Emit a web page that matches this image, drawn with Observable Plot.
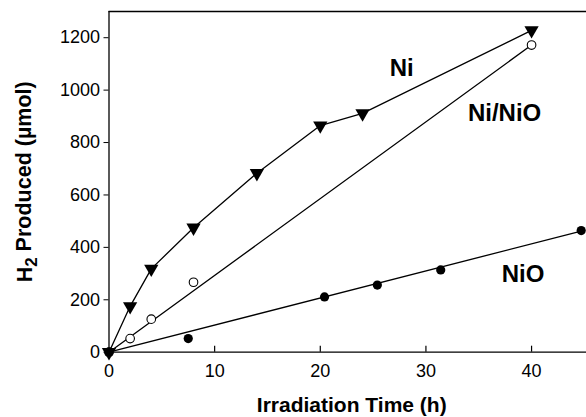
<!DOCTYPE html>
<html>
<head>
<meta charset="utf-8">
<script src="https://cdn.jsdelivr.net/npm/d3@7"></script>
<script src="https://cdn.jsdelivr.net/npm/@observablehq/plot@0.6"></script>
<style>
  html, body { margin: 0; padding: 0; background: white; }
</style>
</head>
<body>
<div id="chart"></div>
<script>
// Ni (filled down-triangles), connected point to point
const niTime = [0, 2, 4, 8, 14, 20, 24, 40];
const niH2   = [0, 175, 318, 475, 683, 865, 911, 1228];

// Ni/NiO (open circles) with straight fitted line
const niNioTime = [0, 2, 4, 8, 40];
const niNioH2   = [0, 52, 126, 267, 1172];
const niNioFitTime = [0, 40];
const niNioFitH2   = [0, 1172];

// NiO (filled circles) with straight fitted line
const nioTime = [0, 7.5, 20.4, 25.4, 31.4, 44.7];
const nioH2   = [0, 52, 211, 256, 314, 464];
const nioFitTime = [0, 44.7];
const nioFitH2   = [0, 462];

// series labels
const labelText = ["Ni", "Ni/NiO", "NiO"];
const labelX    = [27.7, 37.45, 39.2];
const labelY    = [1083, 910, 297];

const xTicks = [0, 10, 20, 30, 40];
const yTicks = [0, 200, 400, 600, 800, 1000, 1200];
const xTitle = "Irradiation Time (h)";
const yTitle = "H2 Produced (\u00B5mol)";

const zip = (xs, ys) => xs.map((x, i) => ({x, y: ys[i]}));
const ni = zip(niTime, niH2);
const niNio = zip(niNioTime, niNioH2);
const niNioFit = zip(niNioFitTime, niNioFitH2);
const nio = zip(nioTime, nioH2);
const nioFit = zip(nioFitTime, nioFitH2);
const labels = labelText.map((t, i) => ({t, x: labelX[i], y: labelY[i]}));

const font = "'Liberation Sans', Arial, Helvetica, sans-serif";

const chart = Plot.plot({
  width: 586,
  height: 417,
  marginLeft: 108.5,
  marginRight: 0,
  marginTop: 11,
  marginBottom: 65.3,
  x: {domain: [0, 45.2]},
  y: {domain: [0, 1300]},
  style: {fontFamily: font, fontSize: "18px", color: "black", background: "white"},
  marks: [
    Plot.axisY(yTicks, {tickSize: 5, tickPadding: 4, label: null, tickFormat: d => String(d)}),
    Plot.axisX(xTicks, {tickSize: 0, tickPadding: 12, label: null, tickFormat: d => String(d)}),
    Plot.tickX(xTicks.slice(1), {x: d => d, insetTop: 334.7, stroke: "black", strokeWidth: 1.2}),
    Plot.ruleX([0], {stroke: "black", strokeWidth: 1.3}),
    Plot.ruleY([0], {stroke: "black", strokeWidth: 1.3}),
    Plot.ruleY([1300], {stroke: "black", strokeWidth: 1.3}),
    Plot.line(ni, {x: "x", y: "y", stroke: "black", strokeWidth: 1.3}),
    Plot.line(niNioFit, {x: "x", y: "y", stroke: "black", strokeWidth: 1.3}),
    Plot.line(nioFit, {x: "x", y: "y", stroke: "black", strokeWidth: 1.3}),
    Plot.dot(ni, {x: "x", y: "y", symbol: "triangle", rotate: 180, r: 5.3, fill: "black", stroke: "none"}),
    Plot.dot(niNio, {x: "x", y: "y", r: 4.3, fill: "white", stroke: "black", strokeWidth: 1.1}),
    Plot.dot(nio, {x: "x", y: "y", r: 4.6, fill: "black", stroke: "none"}),
    Plot.text(labels, {x: "x", y: "y", text: "t", fontSize: 24, fontWeight: "bold", fill: "black"}),
    Plot.text([xTitle], {frameAnchor: "bottom", textAnchor: "middle", lineAnchor: "middle", dy: 53.5, dx: 4, fontSize: 21, fontWeight: "bold", fill: "black"}),
    Plot.text([yTitle], {frameAnchor: "left", textAnchor: "middle", lineAnchor: "middle", dx: -84, rotate: -90, fontSize: 21.5, fontWeight: "bold", fill: "black"})
  ]
});

// make the "2" in H2 a subscript
d3.select(chart).selectAll("text").each(function() {
  if (this.textContent === yTitle) {
    const t = d3.select(this);
    t.text(null);
    t.append("tspan").text("H");
    t.append("tspan").attr("dy", "0.3em").attr("font-size", "17px").text("2");
    t.append("tspan").attr("dy", "-0.3em").text(" Produced (\u00B5mol)");
  }
});

document.getElementById("chart").appendChild(chart);
</script>
</body>
</html>
